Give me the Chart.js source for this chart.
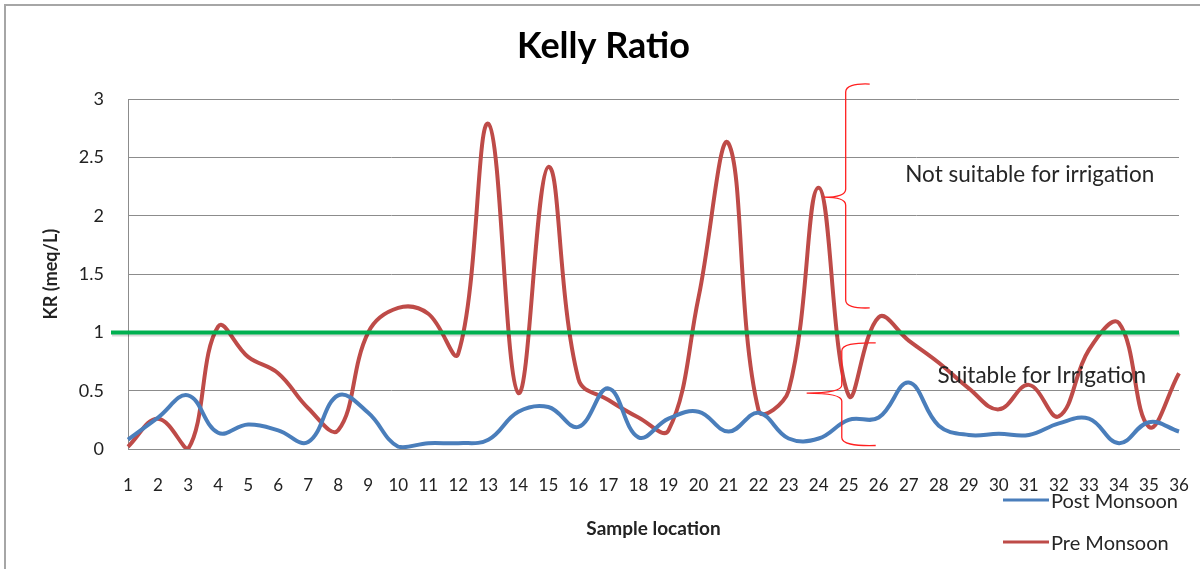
<!DOCTYPE html>
<html>
<head>
<meta charset="utf-8">
<script src="https://cdn.jsdelivr.net/npm/chart.js@4/dist/chart.umd.min.js"></script>
<style>
  html, body { margin: 0; padding: 0; background: #fff; }
  #wrap { width: 1200px; height: 569px; }
</style>
</head>
<body>
<div id="wrap"><canvas id="kr" width="1200" height="569"></canvas></div>
<script>
// sample locations 1..36
const sampleLabels = [];
for (let i = 1; i <= 36; i++) sampleLabels.push(String(i));

const postMonsoon = [
  0.08, 0.27, 0.46, 0.14, 0.21, 0.16, 0.06, 0.46, 0.31, 0.02,
  0.05, 0.05, 0.08, 0.32, 0.36, 0.19, 0.52, 0.10, 0.26, 0.32,
  0.15, 0.31, 0.09, 0.09, 0.25, 0.27, 0.57, 0.20, 0.12, 0.13,
  0.12, 0.22, 0.26, 0.05, 0.23, 0.15
];
const preMonsoon = [
  0.02, 0.26, 0.00, 1.05, 0.79, 0.65, 0.35, 0.16, 1.00, 1.21,
  1.16, 0.82, 2.79, 0.48, 2.42, 0.60, 0.42, 0.27, 0.16, 1.30,
  2.62, 0.33, 0.50, 2.24, 0.46, 1.13, 0.93, 0.74, 0.52, 0.34,
  0.55, 0.28, 0.85, 1.08, 0.19, 0.65
];
const yTicks = [0, 0.5, 1, 1.5, 2, 2.5, 3];
const threshold = 1;

// brace annotations in data space (category index, value)
const upperBrace = { x: 23.9, hookX: 24.7, tipX: 23.17, top: 3.13, tip: 2.16, bottom: 1.21 };
const lowerBrace = { x: 23.77, hookX: 24.9, tipX: 22.6, top: 0.91, tip: 0.48, bottom: 0.03 };
const notes = [
  { text: 'Not suitable for irrigation', x: 30.03, y: 2.35 },
  { text: 'Suitable for Irrigation', x: 30.43, y: 0.63 }
];

const FONT = 'Lato, "Open Sans", sans-serif';
const BLUE = '#4a7ebb';
const RED = '#be4b48';
const GREEN = '#00b050';
const GRID = '#8c8c8c';

const frame = {
    id: 'frame',
    beforeDraw(chart) {
        const ctx = chart.ctx;
        ctx.save();
        ctx.fillStyle = '#fff';
        ctx.fillRect(0, 0, chart.width, chart.height);
        ctx.strokeStyle = '#a6a6a6';
        ctx.lineWidth = 2;
        ctx.strokeRect(5, 5, chart.width + 50, chart.height + 50);
        ctx.restore();
    }
};

function drawBrace(ctx, xs, ys, b) {
    const x = xs.getPixelForValue(b.x);
    const hx = xs.getPixelForValue(b.hookX);
    const tx = xs.getPixelForValue(b.tipX);
    const yt = ys.getPixelForValue(b.top);
    const ym = ys.getPixelForValue(b.tip);
    const yb = ys.getPixelForValue(b.bottom);
    ctx.beginPath();
    ctx.moveTo(hx, yt);
    ctx.quadraticCurveTo(x, yt - 1, x, yt + 8);
    ctx.lineTo(x, ym - 8);
    ctx.quadraticCurveTo(x, ym, tx, ym);
    ctx.quadraticCurveTo(x, ym, x, ym + 8);
    ctx.lineTo(x, yb - 8);
    ctx.quadraticCurveTo(x, yb + 1, hx, yb);
    ctx.stroke();
}

const overlay = {
    id: 'overlay',
    afterDatasetsDraw(chart) {
        const ctx = chart.ctx;
        const xs = chart.scales.x;
        const ys = chart.scales.y;
        const area = chart.chartArea;
        ctx.save();

        // threshold line
        const ty = ys.getPixelForValue(threshold);
        ctx.strokeStyle = 'rgba(0,0,0,0.15)';
        ctx.lineWidth = 4;
        ctx.beginPath();
        ctx.moveTo(area.left - 16, ty + 2);
        ctx.lineTo(area.right + 1, ty + 2);
        ctx.stroke();
        ctx.strokeStyle = GREEN;
        ctx.beginPath();
        ctx.moveTo(area.left - 17, ty);
        ctx.lineTo(area.right, ty);
        ctx.stroke();

        // braces
        ctx.strokeStyle = '#ff2020';
        ctx.lineWidth = 1.3;
        drawBrace(ctx, xs, ys, upperBrace);
        drawBrace(ctx, xs, ys, lowerBrace);

        // notes
        ctx.fillStyle = '#262626';
        ctx.font = '22.5px ' + FONT;
        ctx.textAlign = 'center';
        ctx.textBaseline = 'middle';
        notes.forEach(n => {
            ctx.fillText(n.text, xs.getPixelForValue(n.x), ys.getPixelForValue(n.y));
        });

        // legend
        ctx.textAlign = 'left';
        ctx.font = '20px ' + FONT;
        ctx.lineWidth = 3;
        chart.data.datasets.forEach((ds, i) => {
            const ly = 500 + i * 42;
            ctx.strokeStyle = ds.borderColor;
            ctx.beginPath();
            ctx.moveTo(1003, ly);
            ctx.lineTo(1049, ly);
            ctx.stroke();
            ctx.fillStyle = '#262626';
            ctx.fillText(ds.label, 1051, ly + 2);
        });
        ctx.restore();
    }
};

new Chart(document.getElementById('kr'), {
    type: 'line',
    data: {
        labels: sampleLabels,
        datasets: [
            { label: 'Post Monsoon', data: postMonsoon, borderColor: BLUE, backgroundColor: BLUE,
              borderWidth: 4, pointRadius: 0, tension: 0.4, fill: false },
            { label: 'Pre Monsoon', data: preMonsoon, borderColor: RED, backgroundColor: RED,
              borderWidth: 4, pointRadius: 0, tension: 0.4, fill: false }
        ]
    },
    options: {
        responsive: false,
        animation: false,
        events: [],
        layout: { padding: { left: 7, right: 0, top: 0, bottom: 0 } },
        plugins: {
            legend: { display: false },
            tooltip: { enabled: false },
            title: {
                display: true,
                text: 'Kelly Ratio',
                color: '#000',
                font: { family: FONT, size: 36, weight: 'bold' },
                padding: { top: 25, bottom: 31 }
            }
        },
        scales: {
            x: {
                offset: false,
                grid: { display: false, drawTicks: false },
                border: { display: true, color: GRID, width: 1 },
                ticks: {
                    color: '#222', autoSkip: false, maxRotation: 0, padding: 26,
                    font: { family: FONT, size: 17 }
                },
                title: {
                    display: true, text: 'Sample location', color: '#222',
                    font: { family: FONT, size: 19, weight: 'bold' },
                    padding: { top: 0, bottom: 29 }
                },
                afterFit(scale) {
                    scale.height = 120;
                    scale.paddingLeft = 0;
                    scale.paddingRight = 21;
                }
            },
            y: {
                min: 0, max: 3,
                afterBuildTicks(scale) { scale.ticks = yTicks.map(v => ({ value: v })); },
                grid: { color: GRID, lineWidth: 1, drawTicks: false },
                border: { display: true, color: GRID, width: 1 },
                ticks: {
                    color: '#222', padding: 24,
                    font: { family: FONT, size: 18 },
                    callback: v => String(v)
                },
                title: {
                    display: true, text: 'KR (meq/L)', color: '#222',
                    font: { family: FONT, size: 18, weight: 'bold' },
                    padding: { top: 33, bottom: 0 }
                },
                afterFit(scale) { scale.width = 121; }
            }
        }
    },
    plugins: [frame, overlay]
});
</script>
</body>
</html>
